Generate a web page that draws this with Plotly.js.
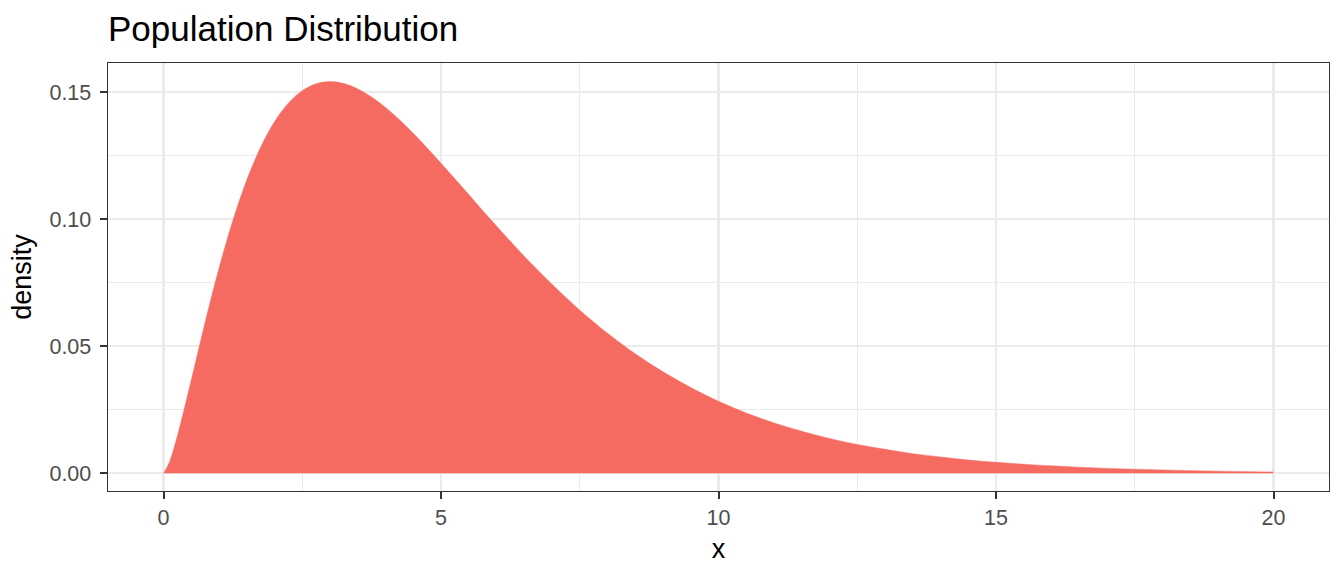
<!DOCTYPE html>
<html>
<head>
<meta charset="utf-8">
<script src="https://cdn.plot.ly/plotly-3.0.1.min.js"></script>
<style>html,body{margin:0;padding:0;background:#fff;}#chart{width:1344px;height:576px;}</style>
</head>
<body>
<div id="chart"></div>
<script>
const xValues = [0, 0.1, 0.25, 0.5, 0.75, 1, 1.25, 1.5, 1.75, 2, 2.25, 2.5, 2.75, 3, 3.25, 3.5, 3.75, 4, 4.25, 4.5, 4.75, 5, 5.25, 5.5, 5.75, 6, 6.25, 6.5, 6.75, 7, 7.25, 7.5, 7.75, 8, 8.5, 9, 9.5, 10, 10.5, 11, 11.5, 12, 12.5, 13, 13.5, 14, 14.5, 15, 16, 17, 18, 19, 20];
const densityValues = [0, 0.0040, 0.0147, 0.0366, 0.0594, 0.0807, 0.0995, 0.1154, 0.1283, 0.1384, 0.1457, 0.1506, 0.1533, 0.1542, 0.1534, 0.1513, 0.1481, 0.1440, 0.1392, 0.1338, 0.1280, 0.1220, 0.1159, 0.1097, 0.1034, 0.0973, 0.0913, 0.0854, 0.0798, 0.0744, 0.0692, 0.0642, 0.0595, 0.0551, 0.0470, 0.0399, 0.0337, 0.0283, 0.0237, 0.0198, 0.0165, 0.0137, 0.0113, 0.0094, 0.0077, 0.0064, 0.0052, 0.0043, 0.0029, 0.0019, 0.0013, 0.0008, 0.0005];
const xTicks = [0, 5, 10, 15, 20];
const yTicks = [0, 0.05, 0.10, 0.15];
const yTickLabels = ["0.00", "0.05", "0.10", "0.15"];

const font = "Liberation Sans, Arial, sans-serif";
const trace = {
  x: xValues, y: densityValues, type: 'scatter', mode: 'lines',
  fill: 'tozeroy', fillcolor: '#F66B61',
  line: {color: '#F66B61', width: 0.5, shape: 'spline', smoothing: 1},
  hoverinfo: 'skip'
};
const layout = {
  width: 1344, height: 576,
  margin: {l: 108, r: 15, t: 63, b: 85},
  paper_bgcolor: '#fff', plot_bgcolor: '#fff',
  showlegend: false,
  title: {text: 'Population Distribution', x: 0, xanchor: 'left', xref: 'paper', y: 1 - 29/576, yanchor: 'middle',
          font: {family: font, size: 35, color: '#000'}},
  xaxis: {
    range: [-1, 21], tickvals: xTicks, ticktext: xTicks.map(String),
    showgrid: true, gridcolor: '#EBEBEB', gridwidth: 2.2,
    minor: {dtick: 2.5, tick0: 0, showgrid: true, gridcolor: '#EBEBEB', gridwidth: 1.1, ticks: ''},
    zeroline: false, showline: true, mirror: true, linecolor: '#333333', linewidth: 1.4,
    ticks: 'outside', ticklen: 7, tickwidth: 2, tickcolor: '#333333',
    tickfont: {family: font, size: 21.5, color: '#4D4D4D'},
    title: {text: 'x', font: {family: font, size: 27, color: '#000'}, standoff: 10}
  },
  yaxis: {
    range: [-0.0070, 0.1615], tickvals: yTicks, ticktext: yTickLabels,
    showgrid: true, gridcolor: '#EBEBEB', gridwidth: 2.2,
    minor: {dtick: 0.025, tick0: 0, showgrid: true, gridcolor: '#EBEBEB', gridwidth: 1.1, ticks: ''},
    zeroline: false, showline: true, mirror: true, linecolor: '#333333', linewidth: 1.4,
    ticks: 'outside', ticklen: 7, tickwidth: 2, tickcolor: '#333333',
    ticklabelstandoff: 4,
    tickfont: {family: font, size: 21.5, color: '#4D4D4D'},
    title: {text: 'density', font: {family: font, size: 27, color: '#000'}, standoff: 10}
  }
};
Plotly.newPlot('chart', [trace], layout, {displayModeBar: false, staticPlot: true});
</script>
</body>
</html>
